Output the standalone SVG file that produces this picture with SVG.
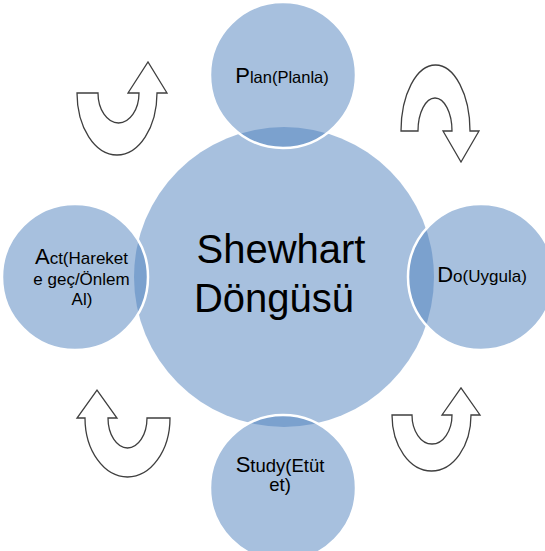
<svg xmlns="http://www.w3.org/2000/svg" width="545" height="551" viewBox="0 0 545 551">
  <style>
    .hub { fill: #4F81BD; fill-opacity: 0.5; stroke: none; }
    .step { fill: #4F81BD; fill-opacity: 0.5; stroke: #FFFFFF; stroke-width: 2.5; }
    .turn { fill: #FFFFFF; stroke: #3F3F3F; stroke-width: 1.3; stroke-linejoin: miter; }
    text { font-family: "Liberation Sans", Arial, sans-serif; fill: #000000; text-anchor: middle; }
    .title { font-size: 40px; }
    .cap { font-size: 22px; }
  </style>
  <rect width="545" height="551" fill="#FFFFFF"/>

  <!-- central cycle circle -->
  <g id="hub">
    <circle class="hub" cx="284" cy="277" r="150"/>
    <text class="title" x="281" y="263">Shewhart</text>
    <text class="title" x="274" y="312">Döngüsü</text>
  </g>

  <!-- Plan -->
  <g id="plan">
    <circle class="step" cx="283" cy="75" r="73"/>
    <text x="282" y="83" font-size="16.5px"><tspan class="cap">P</tspan>lan(Planla)</text>
  </g>

  <!-- Do -->
  <g id="do">
    <circle class="step" cx="481" cy="277" r="73"/>
    <text x="482" y="282" font-size="17px"><tspan class="cap">D</tspan>o(Uygula)</text>
  </g>

  <!-- Study -->
  <g id="study">
    <circle class="step" cx="283" cy="488" r="73"/>
    <text x="280" y="472" font-size="18.5px"><tspan class="cap">S</tspan>tudy(Etüt</text>
    <text x="280" y="491" font-size="18.5px">et)</text>
  </g>

  <!-- Act -->
  <g id="act">
    <circle class="step" cx="75" cy="277" r="73"/>
    <text x="81.5" y="264" font-size="17px"><tspan class="cap">A</tspan>ct(Hareket</text>
    <text x="81.5" y="285" font-size="17px">e geç/Önlem</text>
    <text x="82" y="305" font-size="17px">Al)</text>
  </g>

  <!-- U-turn arrows between the steps -->
  <g id="connectors">
    <path class="turn" d="M401,131 A34.5,66 0 0 1 470,131 L479,131 L461,162 L443,131 L452,131 A17,33 0 0 0 418,131 Z"/>
    <path class="turn" d="M392,415 L412,415 A20,29 0 0 0 452,415 L442,415 L461,388 L480,415 L471,415 A39.5,56 0 0 1 392,415 Z"/>
    <path class="turn" d="M170,418 L147,418 A19.5,30 0 0 1 108,418 L117,418 L97,390 L77,418 L85,418 A42.5,59 0 0 0 170,418 Z"/>
    <path class="turn" d="M77,93 L98,93 A20.5,30 0 0 0 139,93 L128,93 L148,62 L167,93 L157,93 A40,62 0 0 1 77,93 Z"/>
  </g>
</svg>
